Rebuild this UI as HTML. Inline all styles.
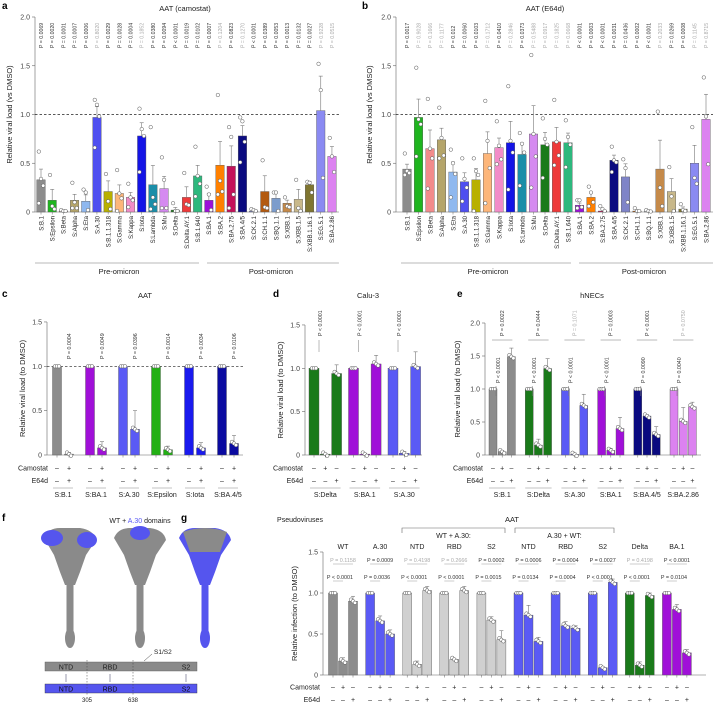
<!DOCTYPE html>
<html><head><meta charset="utf-8"><style>
body{margin:0;background:#fff}
svg{display:block;font-family:"Liberation Sans",sans-serif}
</style></head><body>
<svg id="fig" width="719" height="703" viewBox="0 0 719 703" xmlns="http://www.w3.org/2000/svg"></svg>
<script>
// ---------- Panel a/b data ----------
const abLabels=["S:B.1","S:Epsilon","S:Beta","S:Alpha","S:Eta","S:A.30","S:B.1.1.318","S:Gamma","S:Kappa","S:Iota","S:Lambda","S:Mu","S:Delta","S:Delta AY.1","S:B.1.640","S:BA.1","S:BA.2","S:BA.2.75","S:BA.4/5","S:CK.2.1","S:CH.1.1","S:BQ.1.1","S:XBB.1","S:XBB.1.5","S:XBB.1.16.1","S:EG.5.1","S:BA.2.86"];
const abColors=['#8c8c8c','#1fb51f','#f28b8b','#b5a56a','#8fb8ef','#4f4ff0','#b8b000','#fdb67a','#f28cc8','#1414e6','#1b8ea8','#d58af0','#1a7a1a','#ee3a3a','#2db87d','#9b10d8','#ff8000','#c4125a','#0b0b80','#7f84c8','#b35a10','#7c9ccc','#c58a4a','#c8b88a','#7f7530','#8a8af2','#dc82f0'];
const aValues=[0.33,0.12,0.01,0.12,0.11,0.97,0.21,0.19,0.15,0.78,0.28,0.24,0.02,0.15,0.37,0.12,0.48,0.47,0.78,0.01,0.21,0.14,0.09,0.13,0.28,1.04,0.57];
const aDots=[[0.62,0.34,0.27,0.09],[0.38,0.06,0.03],[0.02,0.01,0.01],[0.30,0.10,0.04,0.04],[0.23,0.2,0.02],[1.15,1.1,0.98,0.66],[0.39,0.11,0.03],[0.43,0.19,0.14,0.01],[0.29,0.15,0.12,0.05],[1.06,0.85,0.78,0.41],[0.87,0.15,0.08,0.03],[0.56,0.33,0.04,0.04],[0.09,0.01,0.01],[0.4,0.08,0.07],[0.67,0.37,0.29,0.16],[0.26,0.18,0.02],[1.2,0.32,0.21,0.18],[0.87,0.77,0.18,0.04],[0.97,0.93,0.72,0.51],[0.03,0.02,0.01],[0.53,0.05,0.04],[0.2,0.2,0.01],[0.15,0.06,0.05],[0.33,0.04,0.01],[0.31,0.3,0.2],[1.52,1.25,0.35],[0.76,0.57,0.41]];
const aP=["0.0069","0.0020","0.0001","0.0007","0.0006","0.8020","0.0029","0.0028","0.0004","0.1852","0.0380","0.0094","<0.0001","0.0019","0.0102","0.0007","0.1204","0.0823","0.1270","<0.0001","0.0389","0.0053","0.0013","0.0132","0.0027","0.9228","0.0515"];
const aPns=[0,0,0,0,0,1,0,0,0,1,0,0,0,0,0,0,1,0,1,0,0,0,0,0,0,1,1];
const bValues=[0.44,0.97,0.65,0.74,0.41,0.31,0.33,0.60,0.66,0.71,0.59,0.80,0.69,0.72,0.71,0.07,0.15,0.01,0.53,0.36,0.01,0.005,0.44,0.21,0.03,0.50,0.95];
const bDots=[[0.6,0.42,0.4,0.38],[1.48,0.95,0.9,0.57],[1.16,0.65,0.55,0.24],[1.07,0.76,0.58,0.55],[0.64,0.5,0.39,0.15],[0.55,0.34,0.25,0.11],[0.55,0.42,0.38,0.01],[1.14,0.73,0.45,0.09],[0.93,0.68,0.54,0.49],[1.29,0.73,0.61,0.23],[0.81,0.7,0.61,0.27],[1.61,0.8,0.57,0.25],[0.96,0.75,0.69,0.35],[1.15,0.72,0.58,0.48],[0.94,0.77,0.69,0.46],[0.12,0.12,0.05,0.04],[0.26,0.2,0.1,0.06],[0.06,0.03,0.01],[0.67,0.53,0.51,0.41],[0.54,0.45,0.1],[0.04,0.01,0.01],[0.02,0.01,0.005],[1.03,0.25,0.06],[0.46,0.16,0.01],[0.08,0.02,0.01],[0.87,0.35,0.29],[1.38,0.98,0.49]];
const bP=["0.0017","0.9028","0.1666","0.1177","0.012","0.0060","0.0103","0.1712","0.0410","0.2846","0.0373","0.5488","0.0917","0.1825","0.0668","<0.0001","0.0003","<0.0001","0.0031","0.0436","0.0002","<0.0001","0.2033","0.0269","0.0008","0.1145","0.8715"];
const bPns=[0,1,1,1,0,0,0,1,0,1,0,1,1,1,1,0,0,0,0,0,0,0,1,0,0,1,1];
const abTicks=[0,0.5,1.0,1.5,2.0];
const abTickLabels=["0","0.5","1.0","1.5","2.0"];

// ---------- Panel c ----------
const cLabels=["S:B.1","S:BA.1","S:A.30","S:Epsilon","S:Iota","S:BA.4/5"];
const cColors=['#8c8c8c','#a010d8','#5a5af5','#22b014','#1a1aee','#0a0aa0'];
const cValues=[[1,0.01],[1,0.08],[1,0.29],[1,0.06],[1,0.08],[1,0.13]];
const cErr=[[0,0.02],[0,0.07],[0,0.21],[0,0.04],[0,0.06],[0,0.09]];
const cP=["0.0004","0.0049","0.0396","0.0014","0.0034","0.0106"];
const cCam=["–","+"], cE64=["–","+"];
const cTicks=[0,0.5,1.0,1.5], cTickLabels=["0","0.5","1.0","1.5"];

// ---------- Panel d ----------
const dLabels=["S:Delta","S:BA.1","S:A.30"];
const dColors=['#1a7a1a','#a010d8','#5a5af5'];
const dValues=[[1,0.01,0.94],[1,0.01,1.05],[1,0.02,1.02]];
const dErr=[[0,0.01,0.1],[0,0.01,0.1],[0,0.02,0.17]];
const dP=["< 0.0001","< 0.0001","< 0.0001"];
const dCam=["–","+","–"], dE64=["–","–","+"];
const dTicks=[0,0.5,1.0,1.5], dTickLabels=["0","0.5","1.0","1.5"];

// ---------- Panel e ----------
const eLabels=["S:B.1","S:Delta","S:A.30","S:BA.1","S:BA.4/5","S:BA.2.86"];
const eColors=['#8c8c8c','#1a7a1a','#5a5af5','#a010d8','#0a0a80','#dc82f0'];
const eValues=[[1,0.05,1.49],[1,0.15,1.31],[1,0.01,0.75],[1,0.07,0.40],[1,0.59,0.31],[1,0.51,0.73]];
const eErr=[[0,0.02,0.13],[0,0.09,0.15],[0,0.02,0.17],[0,0.03,0.17],[0,0.02,0.12],[0,0.21,0.07]];
const ePlow=["< 0.0001","< 0.0001","< 0.0001","< 0.0001","0.0090","0.0040"];
const ePhigh=["0.0022","0.0444","0.1071","0.0003","< 0.0001","0.0750"];
const ePhighNs=[0,0,1,0,0,1];
const eTicks=[0,0.5,1.0,1.5,2.0], eTickLabels=["0","0.5","1.0","1.5","2.0"];

// ---------- Panel g ----------
const gTitles=["WT","A.30","NTD","RBD","S2","NTD","RBD","S2","Delta","BA.1"];
const gColors=['#8c8c8c','#5a5af5','#d0d0d0','#d0d0d0','#d0d0d0','#5a5af5','#5a5af5','#5a5af5','#1a7a1a','#a010d8'];
const gValues=[[1,0.17,0.90],[1,0.66,0.50],[1,0.13,1.03],[1,0.19,1.03],[1,0.67,0.43],[1,0.73,0.41],[1,0.60,0.57],[1,0.09,1.13],[1,0.12,0.97],[1,0.80,0.27]];
const gErr=[[0,0.04,0.06],[0,0.06,0.05],[0,0.04,0.05],[0,0.01,0.05],[0,0.04,0.11],[0,0.12,0.05],[0,0.05,0.03],[0,0.01,0.04],[0,0.04,0.03],[0,0.06,0.04]];
const gPhigh=["0.1158","0.0009","0.4198","0.2666","0.0002","0.0006","0.0004","0.0027","0.4198","< 0.0001"];
const gPhighNs=[1,0,1,1,0,0,0,0,1,0];
const gPlow=["< 0.0001","0.0036","< 0.0001","< 0.0001","0.0015","0.0134","0.0004","< 0.0001","< 0.0001","0.0104"];
const gTicks=[0,0.5,1.0,1.5], gTickLabels=["0","0.5","1.0","1.5"];

const NS="http://www.w3.org/2000/svg";
const svg=document.getElementById('fig');
function el(tag,attrs,parent,text){const e=document.createElementNS(NS,tag);for(const k in attrs)e.setAttribute(k,attrs[k]);if(text!==undefined)e.textContent=text;(parent||svg).appendChild(e);return e;}
function txt(x,y,s,size,parent,extra){const a=Object.assign({x:x,y:y,'font-size':size,fill:'#222'},extra||{});return el('text',a,parent,s);}
function pStr(p){return p.charAt(0)==='<'?'P < '+p.replace('<','').trim():'P = '+p;}
function sem(a){const m=a.reduce((s,v)=>s+v,0)/a.length;const v=a.reduce((s,x)=>s+(x-m)*(x-m),0)/Math.max(1,a.length-1);return Math.sqrt(v/a.length);}

function yAxis(g,ax,y0,sc,ticks,labels,title,tx){
  el('line',{x1:ax,y1:y0,x2:ax,y2:y0-sc*ticks[ticks.length-1],stroke:'#666','stroke-width':0.6},g);
  ticks.forEach((t,i)=>{const y=y0-t*sc;
    const tk=el('line',{x1:ax-3,y1:y,x2:ax,y2:y,stroke:'#666','stroke-width':0.6},g);
    
    txt(ax-5,y+2.5,labels[i],7,g,{'text-anchor':'end',fill:'#444'});});
  const yc=y0-sc*ticks[ticks.length-1]/2;
  const t=txt(tx,yc,title,7.5,g,{'text-anchor':'middle',transform:'rotate(-90 '+tx+' '+yc+')'});
  
}
function bar(g,cx,w,y0,sc,v,color,name){
  const h=Math.max(0.3,v*sc);
  const r=el('rect',{x:cx-w/2,y:y0-h,width:w,height:h,fill:color,stroke:'#555','stroke-width':0.4},g);
  return r;}
function err(g,cx,y0,sc,v,e){if(e<=0)return;const y1=y0-v*sc,y2=y0-(v+e)*sc;
  el('line',{x1:cx,y1:y1,x2:cx,y2:y2,stroke:'#777','stroke-width':0.6},g);
  el('line',{x1:cx-2,y1:y2,x2:cx+2,y2:y2,stroke:'#777','stroke-width':0.6},g);}
function dot(g,cx,y,fill){const c=el('circle',{cx:cx,cy:y,r:1.8,fill:fill||'#fff',stroke:'#555','stroke-width':0.5},g);}

// ---------- a & b ----------
function abPanel(id,letter,title,ox,ax,x0,step,values,dots,pv,pns,dividerX){
  const g=el('g',{},svg);
  const y0=212,sc=97.5;
  txt(ox+2,9,letter,10,g,{'font-weight':'bold',fill:'#000'});
  const tt=txt(ox+185,11,title,7.5,g,{'text-anchor':'middle'});
  yAxis(g,ax,y0,sc,abTicks,abTickLabels,'Relative viral load (vs DMSO)',ox+12);
  const xe=x0+step*(values.length-1)+7;
  el('line',{x1:ax,y1:y0,x2:xe,y2:y0,stroke:'#666','stroke-width':0.6},g);
  el('line',{x1:ax,y1:y0-sc,x2:xe,y2:y0-sc,stroke:'#222','stroke-width':0.7,'stroke-dasharray':'2.5,2'},g);
  values.forEach((v,i)=>{const cx=x0+i*step;
    bar(g,cx,8.5,y0,sc,v,abColors[i],'bar-'+abLabels[i].replace('S:','').toLowerCase());
    err(g,cx,y0,sc,v,sem(dots[i]));
    dots[i].forEach((d,j)=>dot(g,cx+(j%3-1)*2.2,y0-d*sc,'#fff'));
    el('line',{x1:cx,y1:y0,x2:cx,y2:y0+2.5,stroke:'#666','stroke-width':0.5},g);
    const lt=txt(cx+2.3,216,abLabels[i],6,g,{'text-anchor':'end',transform:'rotate(-90 '+(cx+2.3)+' 216)'});
    
    const pt=txt(cx+2,48,pStr(pv[i]),5.2,g,{transform:'rotate(-90 '+(cx+2)+' 48)',fill:pns[i]?'#aaa':'#333'});
    
  });
  const xs=x0-6, xm=dividerX;
  el('line',{x1:xs,y1:263,x2:xm-4,y2:263,stroke:'#777','stroke-width':0.6},g);
  el('line',{x1:xm+4,y1:263,x2:xe,y2:263,stroke:'#777','stroke-width':0.6},g);
  txt((xs+xm)/2,274,'Pre-omicron',7.5,g,{'text-anchor':'middle'});
  txt((xm+xe)/2,274,'Post-omicron',7.5,g,{'text-anchor':'middle'});
}
abPanel('a','a','AAT (camostat)',0,35,41,11.19,aValues,aDots,aP,aPns,203);
abPanel('b','b','AAT (E64d)',360,396,407,11.5,bValues,bDots,bP,bPns,575);

// ---------- grouped panels ----------
function groupPanel(o){
  const g=el('g',{},svg);
  txt(o.lx,o.ly,o.letter,10,g,{'font-weight':'bold',fill:'#000'});
  if(o.title)txt(o.tx,o.ly+1,o.title,7.5,g,{'text-anchor':'middle'});
  yAxis(g,o.ax,o.y0,o.sc,o.ticks,o.tickLabels,o.ytitle,o.ytx);
  el('line',{x1:o.ax,y1:o.y0,x2:o.xe,y2:o.y0,stroke:'#666','stroke-width':0.6},g);
  if(o.dashed)el('line',{x1:o.ax,y1:o.y0-o.sc,x2:o.xe,y2:o.y0-o.sc,stroke:'#222','stroke-width':0.7,'stroke-dasharray':'2.5,2'},g);
  txt(o.rowX,o.camY+2.5,'Camostat',7,g,{'text-anchor':'end'});
  txt(o.rowX,o.camY+15,'E64d',7,g,{'text-anchor':'end'});
  o.values.forEach((grp,i)=>{const gx=o.gx0+i*o.gstep;
    grp.forEach((v,j)=>{const cx=gx+j*o.bstep;
      bar(g,cx,o.bw,o.y0,o.sc,v,o.colors[i],'bar-'+o.id+'-'+i+'-'+j);
      err(g,cx,o.y0,o.sc,v,o.err[i][j]);
      [-2,0,2].forEach(k=>dot(g,cx+k,o.y0-v*o.sc+(j&&k?k*0.8:0),'#fff'));
      el('line',{x1:cx,y1:o.y0,x2:cx,y2:o.y0+2.5,stroke:'#666','stroke-width':0.5},g);
      txt(cx,o.camY+2.5,o.cam[j],7,g,{'text-anchor':'middle'});
      txt(cx,o.camY+15,o.e64[j],7,g,{'text-anchor':'middle'});
    });
    const gend=gx+(grp.length-1)*o.bstep;
    if(o.labels){el('line',{x1:gx-4,y1:o.camY+20,x2:gend+4,y2:o.camY+20,stroke:'#888','stroke-width':0.6},g);
      const lt=txt((gx+gend)/2,o.camY+29,o.labels[i],7,g,{'text-anchor':'middle'});}
    o.extra&&o.extra(g,i,gx,gend);
  });
}
groupPanel({id:'c',letter:'c',lx:2,ly:297,title:'AAT',tx:145,ax:47,y0:455,sc:88.7,ticks:cTicks,tickLabels:cTickLabels,ytitle:'Relative viral load (to DMSO)',ytx:25,xe:243,dashed:true,
  values:cValues,err:cErr,colors:cColors,labels:cLabels,gx0:57,gstep:33,bstep:12,bw:9,cam:cCam,e64:cE64,camY:468,rowX:48,
  extra:(g,i,gx,gend)=>{const x=gend+2;const t=txt(x,359,pStr(cP[i]),5.3,g,{transform:'rotate(-90 '+x+' 359)',fill:'#333'});}});
groupPanel({id:'d',letter:'d',lx:273,ly:297,title:'Calu-3',tx:368,ax:305,y0:455,sc:86.7,ticks:dTicks,tickLabels:dTickLabels,ytitle:'Relative viral load (to DMSO)',ytx:283,xe:422,dashed:false,
  values:dValues,err:dErr,colors:dColors,labels:dLabels,gx0:314,gstep:39.5,bstep:11.3,bw:10,cam:dCam,e64:dE64,camY:468,rowX:303,
  extra:(g,i,gx)=>{const x=gx+8;el('line',{x1:gx+5,y1:340,x2:gx+5,y2:352,stroke:'#777','stroke-width':0.5},g);const t=txt(x,336,pStr(dP[i]),5.3,g,{transform:'rotate(-90 '+x+' 336)',fill:'#333'});}});
groupPanel({id:'e',letter:'e',lx:457,ly:297,title:'hNECs',tx:592,ax:485,y0:455,sc:66,ticks:eTicks,tickLabels:eTickLabels,ytitle:'Relative viral load (to DMSO)',ytx:460,xe:701,dashed:false,
  values:eValues,err:eErr,colors:eColors,labels:eLabels,gx0:493,gstep:36.2,bstep:9.2,bw:8,cam:dCam,e64:dE64,camY:468,rowX:483,
  extra:(g,i,gx,gend)=>{
    el('line',{x1:gx+3,y1:386,x2:gx+3,y2:396,stroke:'#777','stroke-width':0.5},g);
    const x1=gx+7;const t1=txt(x1,383,pStr(ePlow[i]),5.3,g,{transform:'rotate(-90 '+x1+' 383)',fill:'#333'});
    el('line',{x1:gx-1,y1:340,x2:gend+1,y2:340,stroke:'#777','stroke-width':0.5},g);
    const x2=gx+11;const t2=txt(x2,336,pStr(ePhigh[i]),5.3,g,{transform:'rotate(-90 '+x2+' 336)',fill:ePhighNs[i]?'#aaa':'#333'});}});
groupPanel({id:'g',letter:'g',lx:181,ly:521,title:null,ax:323,y0:675,sc:82,ticks:gTicks,tickLabels:gTickLabels,ytitle:'Relative infection (to DMSO)',ytx:297,xe:706,dashed:false,
  values:gValues,err:gErr,colors:gColors,labels:null,gx0:333,gstep:37.1,bstep:10,bw:9,cam:dCam,e64:dE64,camY:687,rowX:320,
  extra:(g,i,gx,gend)=>{const c=(gx+gend)/2;
    const tt=txt(c,549,gTitles[i],7,g,{'text-anchor':'middle'});
    txt(c,562,pStr(gPhigh[i]),5.4,g,{'text-anchor':'middle',fill:gPhighNs[i]?'#aaa':'#333'});
    el('line',{x1:gx,y1:564,x2:gend,y2:564,stroke:'#999','stroke-width':0.5},g);
    txt(c-3,579,pStr(gPlow[i]),5.4,g,{'text-anchor':'middle',fill:'#333'});
    el('line',{x1:gx,y1:581,x2:gx+10,y2:581,stroke:'#999','stroke-width':0.5},g);}});
// g header
(function(){const g=svg;
  txt(300,522,'Pseudoviruses',7,g,{'text-anchor':'middle'});
  txt(512,522,'AAT',7.5,g,{'text-anchor':'middle'});
  [[402,505,'WT + A.30:'],[515,614,'A.30 + WT:']].forEach(b=>{
    el('path',{d:'M'+b[0]+' 533 V528 H'+b[1]+' V533',fill:'none',stroke:'#666','stroke-width':0.6});
    txt((b[0]+b[1])/2,538,b[2],7,g,{'text-anchor':'middle'});});
})();

// ---------- Panel f ----------
(function(){
  const g=el('g',{},svg);
  txt(2,521,'f',10,g,{'font-weight':'bold',fill:'#000'});
  const t=el('text',{x:140,y:523,'font-size':7,'text-anchor':'middle',fill:'#222'},g);
  el('tspan',{},t,'WT + ');el('tspan',{fill:'#5a5af5'},t,'A.30');el('tspan',{},t,' domains');
  function mol(cx,mode){
    const m=el('g',{},g);
    const gray='#8a8a8a',blue='#5555ee';
    const body=mode==2?blue:gray;
    el('path',{d:`M${cx-26} 538 Q${cx-22} 528 ${cx-10} 528 L${cx+10} 528 Q${cx+24} 530 ${cx+26} 540 L${cx+16} 555 L${cx+10} 572 L${cx+5} 585 L${cx-5} 585 L${cx-10} 572 L${cx-16} 555 Z`,fill:body},m);
    if(mode==2)el('path',{d:`M${cx-22} 532 Q${cx} 524 ${cx+22} 532 L${cx+15} 552 L${cx-15} 552 Z`,fill:gray},m);
    el('rect',{x:cx-3.5,y:583,width:7,height:50,fill:body},m);
    el('ellipse',{cx:cx,cy:638,rx:5,ry:10,fill:body},m);
    if(mode==0){el('ellipse',{cx:cx-18,cy:538,rx:11,ry:8,fill:blue},m);el('ellipse',{cx:cx+17,cy:540,rx:10,ry:8,fill:blue},m);}
    if(mode==1){el('ellipse',{cx:cx,cy:533,rx:10,ry:7,fill:blue},m);}
  }
  mol(70,0);mol(140,1);mol(205,2);
  const gb=el('rect',{x:45,y:662,width:152,height:9,fill:'#8a8a8a',stroke:'#555','stroke-width':0.4},g);
  const bb=el('rect',{x:45,y:684,width:152,height:9,fill:'#5555ee',stroke:'#333','stroke-width':0.4},g);
  [[66,'NTD'],[110,'RBD'],[186,'S2']].forEach(d=>{txt(d[0],669.5,d[1],7,g,{'text-anchor':'middle',fill:'#222'});txt(d[0],691.5,d[1],7,g,{'text-anchor':'middle',fill:'#111'});
    el('line',{x1:d[0],y1:674,x2:d[0],y2:682,stroke:'#557','stroke-width':0.6},g);});
  [87,133].forEach(x=>el('line',{x1:x,y1:660,x2:x,y2:696,stroke:'#444','stroke-width':0.5,'stroke-dasharray':'1.5,1.5'},g));
  txt(87,702,'305',6,g,{'text-anchor':'middle'});txt(133,702,'638',6,g,{'text-anchor':'middle'});
  txt(154,654,'S1/S2',6.5,g,{});el('line',{x1:152,y1:654,x2:144,y2:661,stroke:'#444','stroke-width':0.5},g);
})();
</script>
</body></html>
